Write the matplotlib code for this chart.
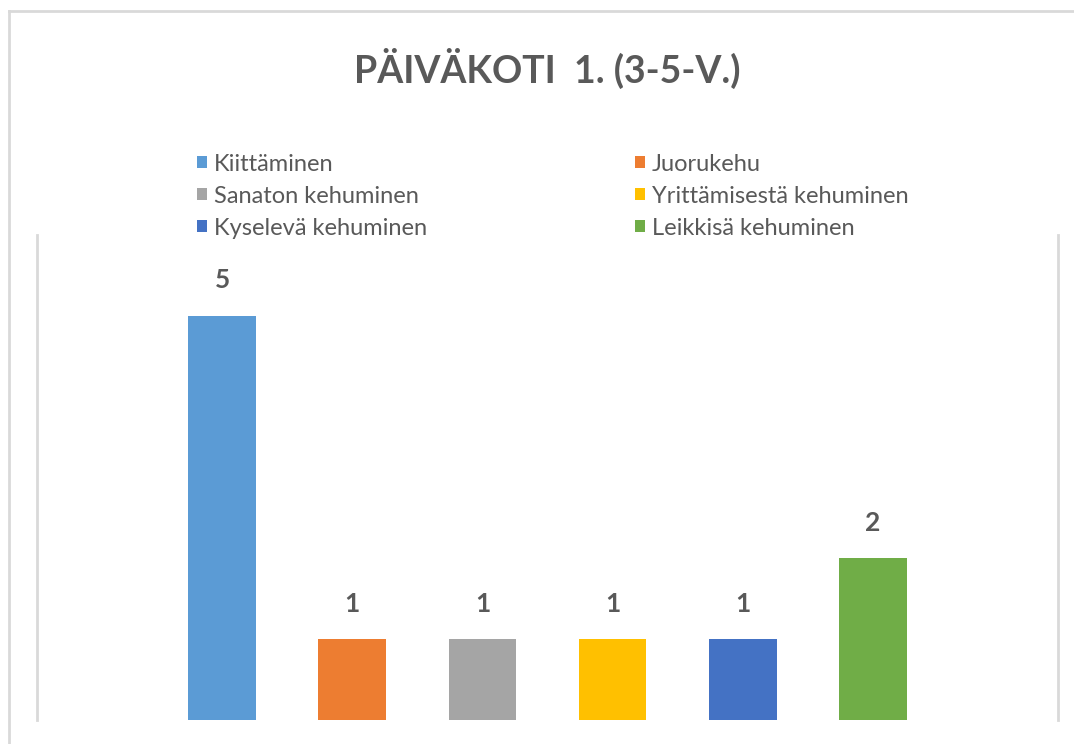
import matplotlib.pyplot as plt
from matplotlib.lines import Line2D

categories = ["Kiittäminen", "Juorukehu", "Sanaton kehuminen",
              "Yrittämisestä kehuminen", "Kyselevä kehuminen", "Leikkisä kehuminen"]
values = [5, 1, 1, 1, 1, 2]
colors = ["#5B9BD5", "#ED7D31", "#A5A5A5", "#FFC000", "#4472C4", "#70AD47"]
title = "PÄIVÄKOTI  1. (3-5-V.)"

plt.rcParams['font.family'] = ['Lato', 'DejaVu Sans']
text_col = "#595959"
line_col = "#d9d9d9"

fig = plt.figure(figsize=(10.74, 7.44), dpi=100)
ax = fig.add_axes([37 / 1074, 24 / 744, 1021 / 1074, 485 / 744])

x = list(range(len(categories)))
bars = ax.bar(x, values, width=0.52, color=colors, label=categories)
ax.set_xlim(-1.423, 6.423)
ax.set_ylim(0, 6)
ax.set_xticks([])
ax.set_yticks([])
for s in ("top", "bottom"):
    ax.spines[s].set_visible(False)
for s in ("left", "right"):
    ax.spines[s].set_color(line_col)
    ax.spines[s].set_linewidth(2)

for b, v in zip(bars, values):
    ax.annotate(str(v), (b.get_x() + b.get_width() / 2, v), xytext=(0, 17),
                textcoords="offset points", ha="center", va="bottom",
                fontsize=19, fontweight="bold", color=text_col)

# legend fills column-first, so reorder to get row-major order
order = [0, 2, 4, 1, 3, 5]
handles = [bars[i] for i in order]
labels = [categories[i] for i in order]
fig.legend(handles, labels, ncol=2, loc="upper left",
           bbox_to_anchor=(185 / 1074, 1 - 142 / 744), frameon=False,
           fontsize=17, handlelength=0.42, handleheight=0.42,
           handletextpad=0.3, columnspacing=8.8, labelspacing=0.46,
           labelcolor=text_col, borderpad=0)

fig.text(547 / 1074, 1 - 68 / 744, title, ha="center", va="center",
         fontsize=27, fontweight="bold", color=text_col)

# outer chart frame (left and top edges)
fig.add_artist(Line2D([9 / 1074, 9 / 1074], [0, 1 - 11 / 744],
                      color=line_col, lw=2, transform=fig.transFigure))
fig.add_artist(Line2D([9 / 1074, 1], [1 - 11 / 744, 1 - 11 / 744],
                      color=line_col, lw=2, transform=fig.transFigure))

fig.savefig("out.png", dpi=100)
